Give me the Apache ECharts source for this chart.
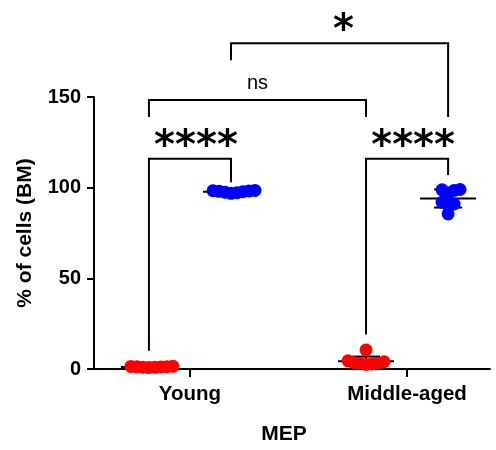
<!DOCTYPE html>
<html>
<head>
<meta charset="utf-8">
<script src="https://cdn.jsdelivr.net/npm/echarts@6/dist/echarts.min.js"></script>
<style>
  html, body { margin: 0; padding: 0; background: #fff; }
  #chart { width: 496px; height: 450px; }
</style>
</head>
<body>
<div id="chart"></div>
<script>
// ---- data ----
const categories = ['Young', 'Middle-aged'];
const yTicks = [0, 50, 100, 150];
// % of cells per animal, red population
const redYoung = [1.2, 0.8, 1.5, 1.0, 1.3, 0.9, 1.1, 1.4];
const redMiddle = [3.5, 2.8, 4.0, 10.5, 3.2, 2.5, 4.5, 3.0];
// % of cells per animal, blue population
const blueYoung = [98.5, 97.8, 98.2, 96.9, 98.0, 97.5, 98.3, 97.2];
const blueMiddle = [99.0, 98.5, 97.0, 85.5, 98.8, 90.5, 92.0, 91.0];
// significance labels
const sigLabels = ['****', '****', 'ns', '*'];

// ---- layout ----
const W = 496, H = 450;
const GRID = { left: 94, right: 6, top: 97, bottom: 80 };
const X_MIN = 0.558, X_MAX = 2.382;
const SHIFT = 0.189;          // red column left, blue column right of the category
const DOT = 13;               // dot diameter, px
const FONT = '"Liberation Sans", Arial, sans-serif';
const STAR_FONT = '"DejaVu Sans", sans-serif';
const pxPerY = (H - GRID.top - GRID.bottom) / (yTicks[yTicks.length - 1] - yTicks[0]);

// horizontal spreading of dots so close values sit side by side
function swarm(values, minDist) {
  const order = values.map((v, i) => i).sort((a, b) => values[a] - values[b]);
  const placed = [];
  const offs = new Array(values.length);
  order.forEach(i => {
    const y = values[i] * pxPerY;
    for (let k = 0; ; k++) {
      const c = k === 0 ? 0 : (k % 2 ? (k + 1) / 2 : -k / 2);
      if (placed.every(p => (p.x - c) ** 2 + (p.y - y) ** 2 >= minDist * minDist)) {
        placed.push({ x: c, y });
        offs[i] = c;
        break;
      }
    }
  });
  return offs;
}

function mean(a) { return a.reduce((s, v) => s + v, 0) / a.length; }
function sd(a) {
  const m = mean(a);
  return Math.sqrt(a.reduce((s, v) => s + (v - m) ** 2, 0) / (a.length - 1));
}

const columns = [
  { x: 1 - SHIFT, values: redYoung, color: '#ff0000' },
  { x: 1 + SHIFT, values: blueYoung, color: '#0000ff' },
  { x: 2 - SHIFT, values: redMiddle, color: '#ff0000' },
  { x: 2 + SHIFT, values: blueMiddle, color: '#0000ff' }
];

function dotSeries(col) {
  const offs = swarm(col.values, 6);
  return {
    type: 'custom',
    z: 3,
    clip: false,
    data: col.values.map((v, i) => [col.x, v, offs[i]]),
    renderItem: (params, api) => {
      const p = api.coord([api.value(0), api.value(1)]);
      return {
        type: 'circle',
        shape: { cx: p[0] + api.value(2), cy: p[1], r: DOT / 2 },
        style: { fill: col.color }
      };
    }
  };
}

// mean line with SD whiskers behind each column
const statSeries = {
  type: 'custom',
  z: 2,
  clip: false,
  data: columns.map(c => [c.x, mean(c.values), sd(c.values)]),
  renderItem: (params, api) => {
    const x = api.value(0), m = api.value(1), s = api.value(2);
    const pm = api.coord([x, m]);
    const pt = api.coord([x, m + s]);
    const pb = api.coord([x, m - s]);
    const st = { stroke: '#000', lineWidth: 2 };
    return {
      type: 'group',
      children: [
        { type: 'line', shape: { x1: pm[0] - 28, y1: pm[1], x2: pm[0] + 28, y2: pm[1] }, style: st },
        { type: 'line', shape: { x1: pm[0], y1: pt[1], x2: pm[0], y2: pb[1] }, style: st },
        { type: 'line', shape: { x1: pm[0] - 14, y1: pt[1], x2: pm[0] + 14, y2: pt[1] }, style: st },
        { type: 'line', shape: { x1: pm[0] - 14, y1: pb[1], x2: pm[0] + 14, y2: pb[1] }, style: st }
      ]
    };
  }
};

// comparison brackets: [left x, right x, bar height, left leg end, right leg end, label index]
const brackets = [
  [columns[0].x, columns[1].x, 116, 10, 103, 0],
  [columns[2].x, columns[3].x, 116, 19, 107, 1],
  [columns[0].x, columns[2].x, 148.4, 139, 139, 2],
  [columns[1].x, columns[3].x, 179.7, 170.3, 139, 3]
];
const labelStyle = [
  { font: 'bold 40px ' + STAR_FONT, dy: 9, dx: 6 },
  { font: 'bold 40px ' + STAR_FONT, dy: 9, dx: 6 },
  { font: '20px ' + FONT, dy: -6, dx: 0 },
  { font: 'bold 40px ' + STAR_FONT, dy: 8, dx: 4 }
];

const bracketSeries = {
  type: 'custom',
  z: 4,
  clip: false,
  data: brackets,
  renderItem: (params, api) => {
    const a = api.coord([api.value(0), api.value(2)]);
    const b = api.coord([api.value(1), api.value(2)]);
    const la = api.coord([api.value(0), api.value(3)]);
    const lb = api.coord([api.value(1), api.value(4)]);
    const li = api.value(5);
    const ls = labelStyle[li];
    return {
      type: 'group',
      children: [
        {
          type: 'polyline',
          shape: { points: [[la[0], la[1]], [a[0], a[1]], [b[0], b[1]], [lb[0], lb[1]]] },
          style: { stroke: '#000', lineWidth: 2, fill: null }
        },
        {
          type: 'text',
          style: {
            text: sigLabels[li],
            x: (a[0] + b[0]) / 2 + ls.dx,
            y: a[1] + ls.dy,
            align: 'center',
            verticalAlign: 'bottom',
            font: ls.font,
            fill: '#000'
          }
        }
      ]
    };
  }
};

const chart = echarts.init(document.getElementById('chart'), null, { renderer: 'canvas' });
chart.setOption({
  animation: false,
  backgroundColor: '#fff',
  grid: GRID,
  xAxis: {
    type: 'value',
    min: X_MIN,
    max: X_MAX,
    name: 'MEP',
    nameLocation: 'middle',
    nameGap: 55,
    nameTextStyle: { fontFamily: FONT, fontWeight: 'bold', fontSize: 21, color: '#000', padding: [0, 16, 0, 0] },
    axisLine: { show: true, onZero: false, lineStyle: { color: '#000', width: 2 } },
    axisTick: { show: true, customValues: [1, 2], length: 8, lineStyle: { color: '#000', width: 2 } },
    axisLabel: {
      customValues: [1, 2],
      formatter: v => categories[Math.round(v) - 1],
      fontFamily: FONT, fontWeight: 'bold', fontSize: 20.5, color: '#000', margin: 15
    },
    splitLine: { show: false }
  },
  yAxis: {
    type: 'value',
    min: yTicks[0],
    max: yTicks[yTicks.length - 1],
    interval: yTicks[1] - yTicks[0],
    name: '% of cells (BM)',
    nameLocation: 'middle',
    nameGap: 58,
    nameTextStyle: { fontFamily: FONT, fontWeight: 'bold', fontSize: 21, color: '#000' },
    axisLine: { show: true, lineStyle: { color: '#000', width: 2 } },
    axisTick: { show: true, length: 7, lineStyle: { color: '#000', width: 2 } },
    axisLabel: { fontFamily: FONT, fontWeight: 'bold', fontSize: 20, color: '#000', margin: 13 },
    splitLine: { show: false }
  },
  series: [statSeries, ...columns.map(dotSeries), bracketSeries]
});
</script>
</body>
</html>
